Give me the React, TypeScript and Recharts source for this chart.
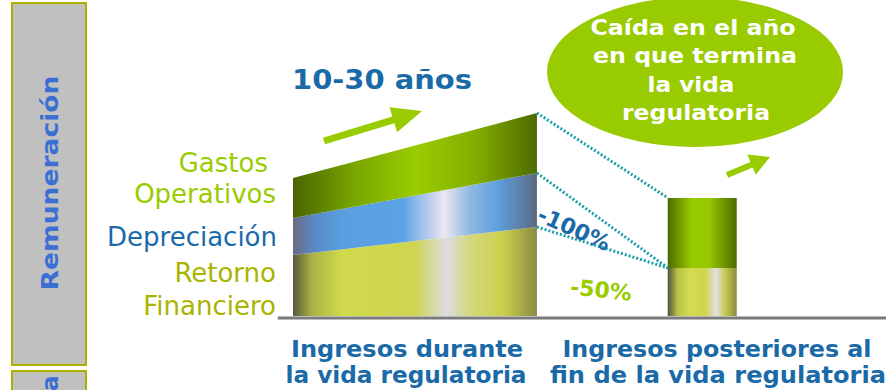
import React from "react";
import { ComposedChart, Area, Bar, XAxis, YAxis, ReferenceLine } from "recharts";

// posiciones en el eje x (0..10)
const AREA_X = [0, 4.17];
const BAR_X = 7;

// valores (alto de cada capa)
const retorno = [61, 89];
const depreciacion = [37, 54];
const gastos = [40, 60];
const barRetorno = 48;
const barGastos = 70;

const BAR_W = 69;
const FONT = "'DejaVu Sans', Verdana, sans-serif";
const BLUE = "#1b6aa8";
const GREEN = "#99cc00";
const DOT = "#1aa0a6";

const areaRows = AREA_X.map((x, i) => {
  const r = retorno[i];
  const d = r + depreciacion[i];
  const g = d + gastos[i];
  return { x, ret: [0, r], dep: [r, d], gas: [d, g] };
});
const barRow = { x: BAR_X, bRet: barRetorno, bGas: barGastos };
const data = [...areaRows, barRow];

const last = areaRows.length - 1;
const areaEnd = AREA_X[last];
const barLeft = BAR_X - BAR_W / 2 / 58.5;

const arrow = (x1: number, y1: number, x2: number, y2: number, w: number, hl: number, hw: number) => {
  const dx = x2 - x1;
  const dy = y2 - y1;
  const L = Math.hypot(dx, dy);
  const ux = dx / L, uy = dy / L, nx = -uy, ny = ux;
  const bx = x2 - ux * hl, by = y2 - uy * hl;
  const p = [
    [x1 + (nx * w) / 2, y1 + (ny * w) / 2],
    [bx + (nx * w) / 2, by + (ny * w) / 2],
    [bx + nx * hw, by + ny * hw],
    [x2, y2],
    [bx - nx * hw, by - ny * hw],
    [bx - (nx * w) / 2, by - (ny * w) / 2],
    [x1 - (nx * w) / 2, y1 - (ny * w) / 2],
  ];
  return p.map((q) => q.join(",")).join(" ");
};

export default function App() {
  return (
    <div style={{ position: "absolute", left: 0, top: 0, width: 886, height: 390, background: "#fff", overflow: "hidden" }}>
      <ComposedChart
        width={886}
        height={390}
        data={data}
        margin={{ top: 66, right: 8, bottom: 74, left: 293 }}
      >
        <defs>
          <linearGradient id="gGas" x1="0" y1="0" x2="1" y2="0">
            <stop offset="0%" stopColor="#4a6400" />
            <stop offset="25%" stopColor="#78a600" />
            <stop offset="50%" stopColor="#99cc00" />
            <stop offset="75%" stopColor="#84ae00" />
            <stop offset="100%" stopColor="#4e6a00" />
          </linearGradient>
          <linearGradient id="gDep" x1="0" y1="0" x2="1" y2="0">
            <stop offset="0%" stopColor="#6a6a80" />
            <stop offset="8%" stopColor="#5a88c4" />
            <stop offset="20%" stopColor="#5a9ee0" />
            <stop offset="45%" stopColor="#5ca2e6" />
            <stop offset="62%" stopColor="#ece6f2" />
            <stop offset="72%" stopColor="#92bae2" />
            <stop offset="84%" stopColor="#5e9fdf" />
            <stop offset="100%" stopColor="#5a6a80" />
          </linearGradient>
          <linearGradient id="gRet" x1="0" y1="0" x2="1" y2="0">
            <stop offset="0%" stopColor="#58583c" />
            <stop offset="8%" stopColor="#aab446" />
            <stop offset="20%" stopColor="#d0da4c" />
            <stop offset="50%" stopColor="#d0d450" />
            <stop offset="63%" stopColor="#dcdce2" />
            <stop offset="72%" stopColor="#d4d880" />
            <stop offset="86%" stopColor="#ccd04c" />
            <stop offset="100%" stopColor="#8a8c44" />
          </linearGradient>
          <linearGradient id="gBarGas" x1="0" y1="0" x2="1" y2="0">
            <stop offset="0%" stopColor="#4e6a00" />
            <stop offset="35%" stopColor="#99cc00" />
            <stop offset="60%" stopColor="#96c800" />
            <stop offset="100%" stopColor="#4e6a00" />
          </linearGradient>
          <linearGradient id="gBarRet" x1="0" y1="0" x2="1" y2="0">
            <stop offset="0%" stopColor="#505040" />
            <stop offset="14%" stopColor="#b8c048" />
            <stop offset="32%" stopColor="#d4dc50" />
            <stop offset="55%" stopColor="#d0d450" />
            <stop offset="70%" stopColor="#e0e0e4" />
            <stop offset="83%" stopColor="#c8cc50" />
            <stop offset="100%" stopColor="#8a8a40" />
          </linearGradient>
        </defs>
        <XAxis type="number" dataKey="x" domain={[0, 10]} hide />
        <YAxis type="number" domain={[0, 250]} hide />
        <Area dataKey="ret" type="linear" stroke="none" fill="url(#gRet)" fillOpacity={1} isAnimationActive={false} />
        <Area dataKey="dep" type="linear" stroke="none" fill="url(#gDep)" fillOpacity={1} isAnimationActive={false} />
        <Area dataKey="gas" type="linear" stroke="none" fill="url(#gGas)" fillOpacity={1} isAnimationActive={false} />
        <Bar dataKey="bRet" stackId="b" barSize={BAR_W} fill="url(#gBarRet)" isAnimationActive={false} />
        <Bar dataKey="bGas" stackId="b" barSize={BAR_W} fill="url(#gBarGas)" isAnimationActive={false} />
        <ReferenceLine
          segment={[{ x: areaEnd, y: retorno[last] + depreciacion[last] + gastos[last] }, { x: barLeft, y: barRetorno + barGastos }]}
          stroke={DOT}
          strokeWidth={3}
          strokeDasharray="2 2"
        />
        <ReferenceLine
          segment={[{ x: areaEnd, y: retorno[last] + depreciacion[last] }, { x: barLeft, y: barRetorno }]}
          stroke={DOT}
          strokeWidth={3}
          strokeDasharray="2 2"
        />
        <ReferenceLine
          segment={[{ x: areaEnd, y: retorno[last] }, { x: barLeft, y: barRetorno }]}
          stroke={DOT}
          strokeWidth={3}
          strokeDasharray="2 2"
        />
        <ReferenceLine
          segment={[{ x: -0.26, y: -2 }, { x: 10.2, y: -2 }]}
          stroke="#7a7a7a"
          strokeWidth={3}
          ifOverflow="visible"
        />
      </ComposedChart>

      <svg width={886} height={390} style={{ position: "absolute", left: 0, top: 0, pointerEvents: "none" }}>
        {/* barra lateral */}
        <rect x={12} y={3} width={74} height={362} fill="#c0c0c0" stroke="#a8b000" strokeWidth={2} />
        <rect x={12} y={371} width={74} height={30} fill="#c0c0c0" stroke="#a8b000" strokeWidth={2} />
        <text transform="translate(58,183) rotate(-90)" textAnchor="middle" fontFamily={FONT} fontWeight="bold" fontSize={23} fill="#3b6fd4" textLength={215} lengthAdjust="spacingAndGlyphs">
          Remuneración
        </text>
        <text transform="translate(58,391) rotate(-90)" textAnchor="start" fontFamily={FONT} fontWeight="bold" fontSize={23} fill="#3b6fd4">
          a
        </text>

        {/* etiquetas de capas */}
        <g fontFamily={FONT} fontSize={26} textAnchor="end">
          <text x={268} y={172} fill={GREEN}>Gastos</text>
          <text x={276} y={203} fill={GREEN}>Operativos</text>
          <text x={277} y={246} fill={BLUE}>Depreciación</text>
          <text x={276} y={282} fill="#a8b400">Retorno</text>
          <text x={276} y={315} fill="#a8b400">Financiero</text>
        </g>

        {/* titulo y flecha */}
        <text x={292} y={89} fontFamily={FONT} fontWeight="bold" fontSize={27} fill={BLUE} textLength={180} lengthAdjust="spacingAndGlyphs">
          10-30 años
        </text>
        <polygon points={arrow(324, 141, 422, 111, 7, 30, 13)} fill={GREEN} />

        {/* porcentajes */}
        <text transform="translate(574,229) rotate(24)" textAnchor="middle" dominantBaseline="central" fontFamily={FONT} fontWeight="bold" fontSize={22} fill={BLUE}>
          -100%
        </text>
        <text transform="translate(601,290) rotate(6)" textAnchor="middle" dominantBaseline="central" fontFamily={FONT} fontWeight="bold" fontSize={22} fill={GREEN}>
          -50%
        </text>

        {/* globo */}
        <ellipse cx={695} cy={72} rx={148} ry={75} fill={GREEN} />
        <g fontFamily={FONT} fontWeight="bold" fontSize={22} fill="#fff" textAnchor="middle">
          <text x={693} y={35} textLength={205} lengthAdjust="spacingAndGlyphs">Caída en el año</text>
          <text x={695} y={63} textLength={204} lengthAdjust="spacingAndGlyphs">en que termina</text>
          <text x={691} y={92} textLength={87} lengthAdjust="spacingAndGlyphs">la vida</text>
          <text x={696} y={120} textLength={148} lengthAdjust="spacingAndGlyphs">regulatoria</text>
        </g>
        <polygon points={arrow(727, 175, 770, 157, 6, 20, 11)} fill={GREEN} />

        {/* categorias */}
        <g fontFamily={FONT} fontWeight="bold" fontSize={23} fill={BLUE} textAnchor="middle">
          <text x={407} y={357} textLength={232} lengthAdjust="spacingAndGlyphs">Ingresos durante</text>
          <text x={406} y={383} textLength={241} lengthAdjust="spacingAndGlyphs">la vida regulatoria</text>
          <text x={717} y={357} textLength={309} lengthAdjust="spacingAndGlyphs">Ingresos posteriores al</text>
          <text x={718} y={383} textLength={336} lengthAdjust="spacingAndGlyphs">fin de la vida regulatoria</text>
        </g>
      </svg>
    </div>
  );
}
